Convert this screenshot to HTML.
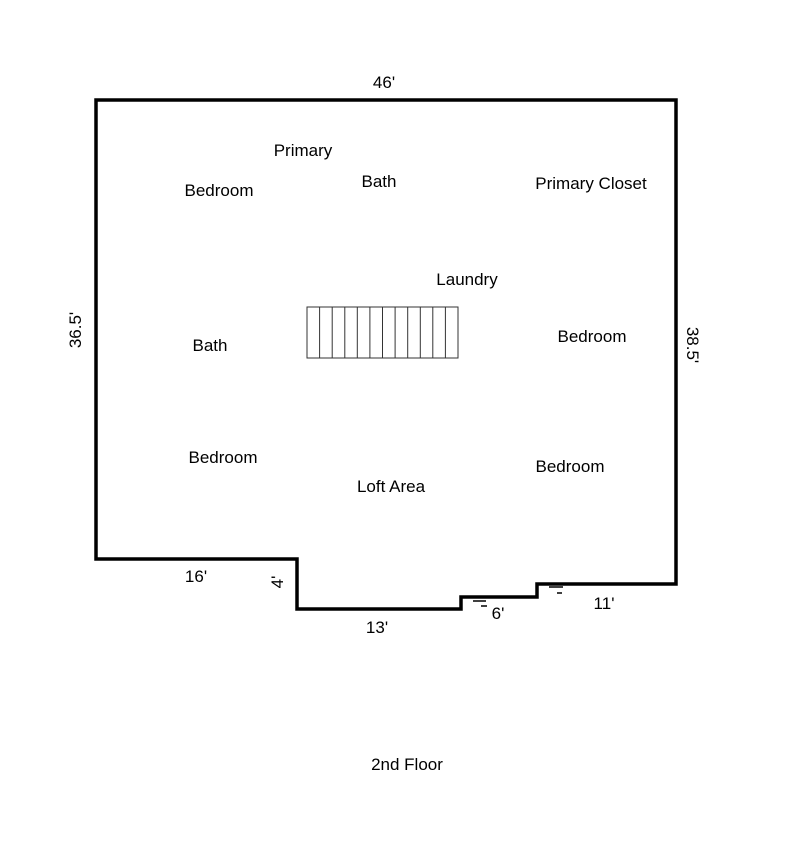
<!DOCTYPE html>
<html><head><style>body{margin:0;background:#fff}</style></head><body>
<svg width="795" height="841" viewBox="0 0 795 841" xmlns="http://www.w3.org/2000/svg" font-family="Liberation Sans, sans-serif" font-size="17" fill="#000">
<polygon points="96,100 676,100 676,584 537,584 537,597 461,597 461,609 297,609 297,559 96,559" fill="none" stroke="#000" stroke-width="3.5" stroke-linejoin="miter"/>
<g stroke="#333" stroke-width="1" fill="none">
<rect x="307" y="307" width="151" height="51"/>
<line x1="319.6" y1="307" x2="319.6" y2="358"/><line x1="332.2" y1="307" x2="332.2" y2="358"/>
<line x1="344.8" y1="307" x2="344.8" y2="358"/><line x1="357.3" y1="307" x2="357.3" y2="358"/>
<line x1="369.9" y1="307" x2="369.9" y2="358"/><line x1="382.5" y1="307" x2="382.5" y2="358"/>
<line x1="395.1" y1="307" x2="395.1" y2="358"/><line x1="407.7" y1="307" x2="407.7" y2="358"/>
<line x1="420.3" y1="307" x2="420.3" y2="358"/><line x1="432.8" y1="307" x2="432.8" y2="358"/>
<line x1="445.4" y1="307" x2="445.4" y2="358"/>
</g>
<g stroke="#000" stroke-width="1.5">
<line x1="473" y1="601" x2="486" y2="601"/><line x1="481" y1="606" x2="487" y2="606"/>
<line x1="549" y1="587" x2="563" y2="587"/><line x1="557" y1="593" x2="562" y2="593"/>
</g>
<text x="384" y="88" text-anchor="middle">46'</text>
<text x="303" y="156" text-anchor="middle">Primary</text>
<text x="219" y="196" text-anchor="middle">Bedroom</text>
<text x="379" y="187" text-anchor="middle">Bath</text>
<text x="591" y="189" text-anchor="middle">Primary Closet</text>
<text x="467" y="285" text-anchor="middle">Laundry</text>
<text x="210" y="351" text-anchor="middle">Bath</text>
<text x="592" y="342" text-anchor="middle">Bedroom</text>
<text x="223" y="463" text-anchor="middle">Bedroom</text>
<text x="391" y="492" text-anchor="middle">Loft Area</text>
<text x="570" y="472" text-anchor="middle">Bedroom</text>
<text x="196" y="582" text-anchor="middle">16'</text>
<text x="377" y="633" text-anchor="middle">13'</text>
<text x="498" y="619" text-anchor="middle">6'</text>
<text x="604" y="609" text-anchor="middle">11'</text>
<text x="407" y="770" text-anchor="middle">2nd Floor</text>
<text transform="translate(81,330) rotate(-90)" text-anchor="middle">36.5'</text>
<text transform="translate(687,345) rotate(90)" text-anchor="middle">38.5'</text>
<text transform="translate(283,582) rotate(-90)" text-anchor="middle">4'</text>
</svg>
</body></html>
